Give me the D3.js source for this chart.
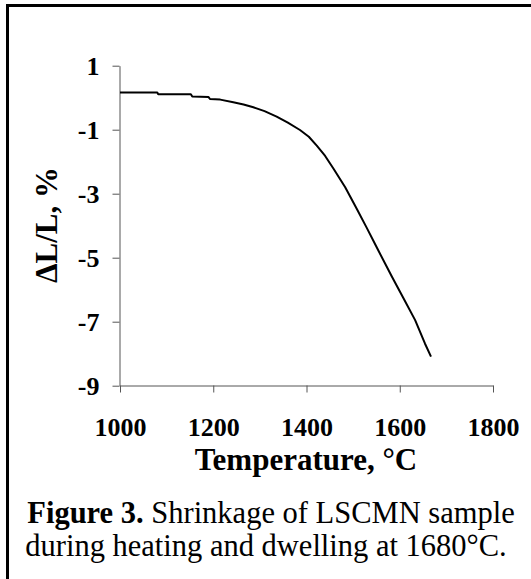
<!DOCTYPE html>
<html>
<head>
<meta charset="utf-8">
<script src="https://cdn.jsdelivr.net/npm/d3@7"></script>
<style>
  html, body { margin: 0; padding: 0; background: #fff; }
  svg { display: block; }
  text { font-family: "Liberation Serif", "Times New Roman", serif; fill: #000; }
</style>
</head>
<body>
<div id="chart"></div>
<script>
// temperature (°C) and linear shrinkage (%)
const temps = [1000, 1080, 1082, 1152, 1155, 1190, 1193, 1215, 1243, 1265, 1286, 1310, 1336, 1360,
  1386, 1405, 1422, 1440, 1458, 1483, 1508, 1529, 1550, 1583, 1608, 1633, 1654, 1667];
const shrink = [0.16, 0.16, 0.11, 0.11, 0.04, 0.02, -0.04, -0.06, -0.14, -0.21, -0.30, -0.42, -0.59, -0.78,
  -1.01, -1.22, -1.50, -1.82, -2.22, -2.80, -3.48, -4.06, -4.66, -5.59, -6.27, -6.95, -7.68, -8.09];
const xTicks = [1000, 1200, 1400, 1600, 1800];
const yTicks = [1, -1, -3, -5, -7, -9];
const captionBold = "Figure 3.";
const captionRest = " Shrinkage of LSCMN sample";
const captionLine2 = "during heating and dwelling at 1680\u00B0C.";

const W = 531, H = 579;
const svg = d3.select("#chart").append("svg").attr("width", W).attr("height", H);

// frame (only top and left edges are visible in the crop)
svg.append("path").attr("d", `M7.5,${H} V5.5 H${W}`)
  .attr("fill", "none").attr("stroke", "#000").attr("stroke-width", 3);

const x = d3.scaleLinear().domain([1000, 1800]).range([120, 493]);
const y = d3.scaleLinear().domain([-9, 1]).range([385.7, 65.7]);
const plain = d => String(d); // hyphen minus, no thousands separator

const ya = svg.append("g").attr("transform", "translate(119.5,0)")
  .call(d3.axisLeft(y).tickValues(yTicks).tickFormat(plain).tickSize(7).tickPadding(13).tickSizeOuter(0));
ya.select(".domain").attr("stroke", "#555");
ya.selectAll(".tick line").attr("stroke", "#555");
ya.selectAll("text").attr("font-size", 26).attr("font-weight", "bold")
  .attr("font-family", "Liberation Serif").attr("fill", "#000");

const xa = svg.append("g").attr("transform", "translate(0,385.5)")
  .call(d3.axisBottom(x).tickValues(xTicks).tickFormat(plain).tickSize(7).tickSizeOuter(0));
xa.select(".domain").attr("stroke", "#555");
xa.selectAll(".tick line").attr("stroke", "#555");
xa.selectAll("text").attr("font-size", 26).attr("font-weight", "bold")
  .attr("font-family", "Liberation Serif").attr("fill", "#000")
  .attr("y", 50).attr("dy", 0);

const rows = temps.map((t, i) => ({ t, v: shrink[i] }));
svg.append("path").datum(rows)
  .attr("fill", "none").attr("stroke", "#000").attr("stroke-width", 2)
  .attr("stroke-linejoin", "round")
  .attr("d", d3.line().x(d => x(d.t)).y(d => y(d.v)));

svg.append("text").attr("x", 306).attr("y", 470).attr("text-anchor", "middle")
  .attr("font-size", 31).attr("font-weight", "bold").text("Temperature, \u00B0C");

svg.append("text").attr("transform", "translate(57,225) rotate(-90)")
  .attr("text-anchor", "middle").attr("font-size", 31).attr("font-weight", "bold")
  .text("\u0394L/L, %");

const cap = svg.append("text").attr("x", 271).attr("y", 523).attr("text-anchor", "middle")
  .attr("font-size", 30.5);
cap.append("tspan").attr("font-weight", "bold").text(captionBold);
cap.append("tspan").text(captionRest);
svg.append("text").attr("x", 266).attr("y", 556).attr("text-anchor", "middle")
  .attr("font-size", 30.5).text(captionLine2);
</script>
</body>
</html>
